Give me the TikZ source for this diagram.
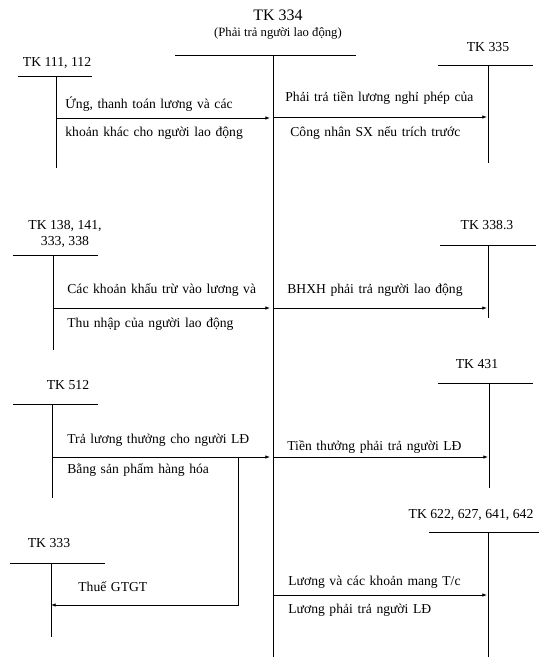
\documentclass[tikz,border=0pt]{standalone}
\usepackage{fontspec}
\setmainfont{Liberation Serif}
\usetikzlibrary{arrows.meta}
% T-account: name, x left, y of bar, x right, x of stem, y of stem end
\newcommand{\taccount}[6]{ \draw ( #2 , #3 ) -- ( #4 , #3 ); \draw ( #5 , #3 ) -- ( #5 , #6 ); \coordinate (#1) at ( #5 , #3 );}
\newcommand{\acclabel}[4]{\node[acclbl] (#1) at ( #2 , #3 ) {#4};}
\newcommand{\flowtext}[4]{\node[flowlbl] (#1) at ( #2 , #3 ) {#4};}
\newcommand{\flowfont}{\fontsize{10.2}{12}\selectfont\spaceskip=0.34em\relax}
\tikzset{
  acclbl/.style={inner sep=0pt, font=\fontsize{10.3}{12}\selectfont, align=center},
  flowlbl/.style={inner sep=0pt, anchor=west, font=\flowfont},
  flow/.style={-{Latex[length=3.5pt,width=2.6pt]}},
}
\begin{document}
\begin{tikzpicture}[x=0.75pt,y=-0.75pt,line width=0.6pt]
        \useasboundingbox (0,0) rectangle (553,657);
        % main account
        \node[inner sep=0pt, font=\fontsize{12}{14}\selectfont] (tk334) at (278,15) {TK 334};
        \node[inner sep=0pt, font=\fontsize{9.5}{11}\selectfont] (tk334s) at (278,33) {(Phải trả người lao động)};
        \taccount{m}{175}{55}{356}{273}{657}

        % left accounts
        \acclabel{l111}{57}{63}{TK 111, 112}
        \taccount{a111}{18}{76}{92}{56}{168}
        \acclabel{l138}{65}{234}{TK 138, 141,\\333, 338}
        \taccount{a138}{13}{255}{98}{53}{350}
        \acclabel{l512}{68}{385}{TK 512}
        \taccount{a512}{13}{404}{98}{52}{498}
        \acclabel{l333}{49}{543}{TK 333}
        \taccount{a333}{10}{563}{105}{51}{637}

        % right accounts
        \acclabel{l335}{488}{47}{TK 335}
        \taccount{a335}{438}{65}{533}{488}{163}
        \acclabel{l3383}{487}{225}{TK 338.3}
        \taccount{a3383}{440}{245}{536}{488}{318}
        \acclabel{l431}{477}{364}{TK 431}
        \taccount{a431}{438}{383}{533}{489}{488}
        \acclabel{l622}{471}{515}{TK 622, 627, 641, 642}
        \taccount{a622}{429}{532}{539}{488}{657}

        % arrow ends
        \coordinate (f1s) at (57,118);  \coordinate (f1e) at (270,118);
        \coordinate (f2s) at (274,117); \coordinate (f2e) at (487,117);
        \coordinate (f3s) at (54,308);  \coordinate (f3e) at (270,308);
        \coordinate (f4s) at (274,308); \coordinate (f4e) at (487,308);
        \coordinate (f5s) at (53,457);  \coordinate (f5e) at (270,457);
        \coordinate (f6s) at (274,457); \coordinate (f6e) at (488,457);
        \coordinate (f7s) at (238,457); \coordinate (f7e) at (51,605);
        \coordinate (f8s) at (274,595); \coordinate (f8e) at (487,595);

        % arrows
        \draw[flow] (f1s) -- (f1e);
        \draw[flow] (f2s) -- (f2e);
        \draw[flow] (f3s) -- (f3e);
        \draw[flow] (f4s) -- (f4e);
        \draw[flow] (f5s) -- (f5e);
        \draw[flow] (f6s) -- (f6e);
        \draw[flow] (f7s) |- (f7e);
        \draw[flow] (f8s) -- (f8e);

        % texts
        \flowtext{t1a}{65}{104}{Ứng, thanh toán lương và các}
        \flowtext{t1b}{65}{133}{khoản khác cho người lao động}
        \flowtext{t2a}{285}{98}{Phải trả tiền lương nghỉ phép của}
        \flowtext{t2b}{290}{133}{Công nhân SX nếu trích trước}
        \flowtext{t3a}{67}{290}{Các khoản khấu trừ vào lương và}
        \flowtext{t3b}{67}{324}{Thu nhập của người lao động}
        \flowtext{t4a}{287}{290}{BHXH phải trả người lao động}
        \flowtext{t5a}{67}{440}{Trả lương thưởng cho người LĐ}
        \flowtext{t5b}{67}{470}{Bằng sản phẩm hàng hóa}
        \flowtext{t6a}{287}{447}{Tiền thưởng phải trả người LĐ}
        \flowtext{t7a}{78}{587}{Thuế GTGT}
        \flowtext{t8a}{288}{582}{Lương và các khoản mang T/c}
        \flowtext{t8b}{288}{610}{Lương phải trả người LĐ}
\end{tikzpicture}
\end{document}
